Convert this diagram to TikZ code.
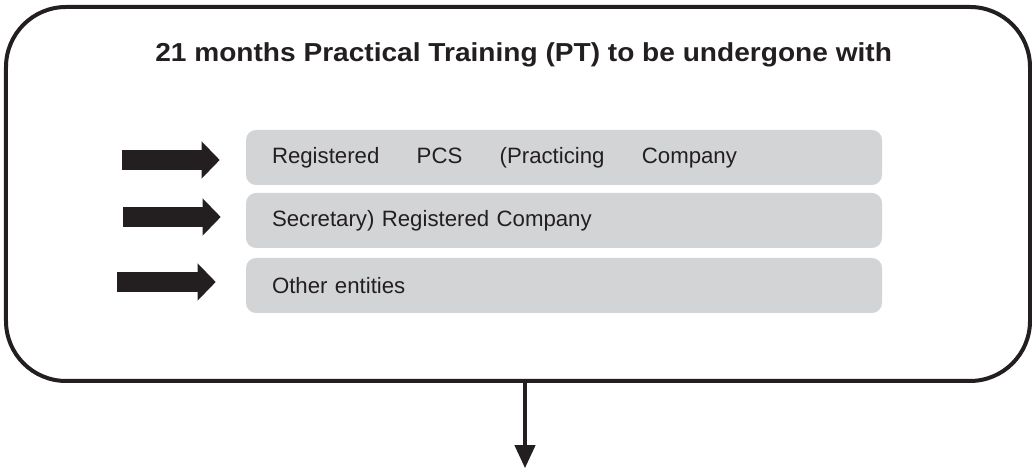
\documentclass[tikz,border=0pt]{standalone}
\usepackage{fontspec}
\setmainfont{Liberation Sans}
\newfontfamily\headfont[FakeStretch=1.08]{Liberation Sans}
\usetikzlibrary{arrows.meta}
\definecolor{ink}{RGB}{35,31,32}
\definecolor{panel}{RGB}{211,212,214}

\begin{document}
\begin{tikzpicture}[
  entry/.style={rectangle, rounded corners=0.25cm, fill=panel, minimum height=1.375cm, text width=14.6cm, inner xsep=0.65cm, align=left, font=\fontsize{15.8}{18}\selectfont, text=ink},
  fat/.style={line width=0.5cm, color=ink, shorten >=0.65cm, -{Triangle[length=0.45cm 0 0, width=0.9cm 0 0]}}]
\useasboundingbox (0,0) rectangle (25.8,11.725);

\node [draw=ink, line width=0.1cm, rounded corners=1.5cm, minimum width=25.6cm, minimum height=9.35cm, inner sep=0] (frame) at (12.95,6.875) {};
\node [anchor=base, font=\headfont\bfseries\fontsize{18.5}{22}\selectfont, text=ink] (title) at (13.09,10.175) {21 months Practical Training (PT) to be undergone with};

\node [entry] (pcs) at (14.1,7.7875) {\hbox to 11.625cm{Registered\hfill PCS\hfill (Practicing\hfill Company}};
\node [entry] (company) at (14.1,6.2125) {Secretary) Registered Company};
\node [entry] (other) at (14.1,4.5875) {Other entities};

\coordinate (s1) at (3.05,7.725);
\coordinate (s2) at (3.075,6.3);
\coordinate (s3) at (2.925,4.675);
\coordinate (out) at (13.125,0.02);

\draw [fat] (s1) -- (s1 -| pcs.west);
\draw [fat, shorten >=0.625cm] (s2) -- (s2 -| company.west);
\draw [fat, shorten >=0.75cm] (s3) -- (s3 -| other.west);

\draw [line width=0.1cm, color=ink, -{Triangle[length=0.575cm 0 0, width=0.5cm 0 0]}] (frame.south -| out) -- (out);
\end{tikzpicture}
\end{document}
